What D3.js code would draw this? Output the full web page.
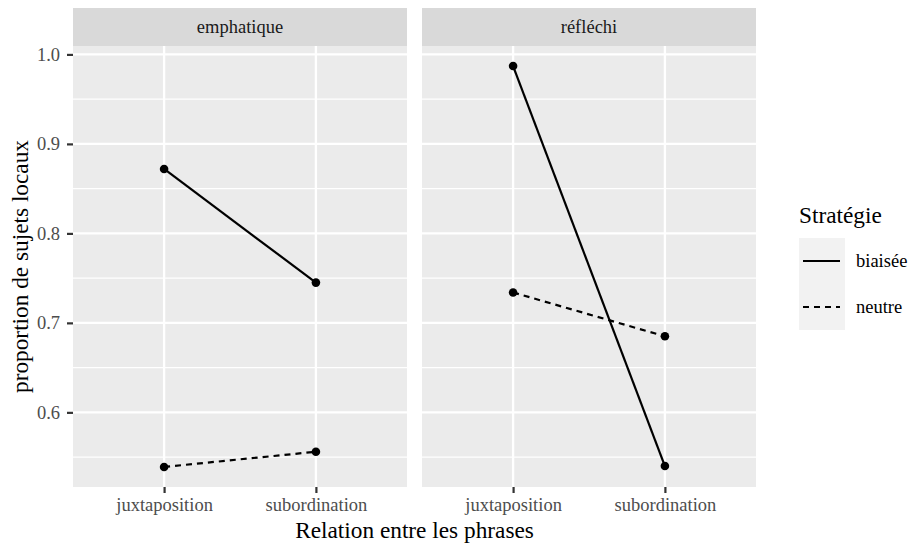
<!DOCTYPE html>
<html><head><meta charset="utf-8">
<script src="https://cdn.jsdelivr.net/npm/d3@7"></script>
<style>body{margin:0;background:#fff}svg{display:block}</style>
</head><body><svg id="c" width="908" height="544"></svg>
<script>
const facets = ["emphatique", "réfléchi"];
const relations = ["juxtaposition", "subordination"];
const strategies = ["biaisée", "neutre"];
const emphatiqueBiaisee = [0.872, 0.745];
const emphatiqueNeutre = [0.539, 0.556];
const reflechiBiaisee = [0.987, 0.540];
const reflechiNeutre = [0.734, 0.685];
const yTicks = [0.6, 0.7, 0.8, 0.9, 1.0];
const yMinor = [0.55, 0.65, 0.75, 0.85, 0.95];

const data = {
  "emphatique": {"biaisée": emphatiqueBiaisee, "neutre": emphatiqueNeutre},
  "réfléchi": {"biaisée": reflechiBiaisee, "neutre": reflechiNeutre}
};

const FONT = "'Liberation Serif', 'DejaVu Serif', serif";
const svg = d3.select("#c").style("font-family", FONT);
const panelTop = 46, panelBottom = 487, stripTop = 8;
const panelX = [[73, 407], [422, 756]];
const all = [].concat(emphatiqueBiaisee, emphatiqueNeutre, reflechiBiaisee, reflechiNeutre);
const lo = d3.min(all), hi = d3.max(all), pad = (hi - lo) * 0.05;
const y = d3.scaleLinear().domain([lo - pad, hi + pad]).range([panelBottom, panelTop]);
const dash = {"biaisée": null, "neutre": "6,5"};

facets.forEach((f, i) => {
  const [x0, x1] = panelX[i];
  const x = d3.scalePoint().domain(relations).range([x0, x1]).padding(0.6);
  const g = svg.append("g");
  g.append("rect").attr("x", x0).attr("y", panelTop).attr("width", x1 - x0).attr("height", panelBottom - panelTop).attr("fill", "#ebebeb");
  yMinor.forEach(v => { if (y(v) > panelTop && y(v) < panelBottom) g.append("line").attr("x1", x0).attr("x2", x1).attr("y1", y(v)).attr("y2", y(v)).attr("stroke", "#fff").attr("stroke-width", 1.2); });
  yTicks.forEach(v => g.append("line").attr("x1", x0).attr("x2", x1).attr("y1", y(v)).attr("y2", y(v)).attr("stroke", "#fff").attr("stroke-width", 2.3));
  relations.forEach(r => g.append("line").attr("x1", x(r)).attr("x2", x(r)).attr("y1", panelTop).attr("y2", panelBottom).attr("stroke", "#fff").attr("stroke-width", 2.3));
  // strip
  g.append("rect").attr("x", x0).attr("y", stripTop).attr("width", x1 - x0).attr("height", panelTop - stripTop).attr("fill", "#d9d9d9");
  g.append("text").attr("x", (x0 + x1) / 2).attr("y", 33).attr("text-anchor", "middle").attr("font-size", 18.5).attr("fill", "#1a1a1a").text(f);
  // lines
  strategies.forEach(s => {
    const vals = data[f][s];
    const line = d3.line().x((d, j) => x(relations[j])).y(d => y(d));
    g.append("path").attr("d", line(vals)).attr("fill", "none").attr("stroke", "#000").attr("stroke-width", 2.2).attr("stroke-dasharray", dash[s]);
    vals.forEach((v, j) => g.append("circle").attr("cx", x(relations[j])).attr("cy", y(v)).attr("r", 4.3).attr("fill", "#000"));
  });
  // x axis
  const xa = svg.append("g").attr("transform", `translate(0,${panelBottom})`).call(d3.axisBottom(x).tickSize(6).tickPadding(5));
  xa.attr("font-family", FONT).attr("font-size", 18.5);
  xa.select(".domain").remove();
  xa.selectAll("line").attr("stroke", "#333").attr("stroke-width", 2.2);
  xa.selectAll("text").attr("fill", "#4d4d4d");
});
// y axis
const ya = svg.append("g").attr("transform", `translate(${panelX[0][0]},0)`).call(d3.axisLeft(y).tickValues(yTicks).tickFormat(d3.format(".1f")).tickSize(6).tickPadding(7));
ya.attr("font-family", FONT).attr("font-size", 18.5);
ya.select(".domain").remove();
ya.selectAll("line").attr("stroke", "#333").attr("stroke-width", 2.2);
ya.selectAll("text").attr("fill", "#4d4d4d");

svg.append("text").attr("x", (panelX[0][0] + panelX[1][1]) / 2).attr("y", 538).attr("text-anchor", "middle").attr("font-size", 23.3).attr("fill", "#000").text("Relation entre les phrases");
svg.append("text").attr("transform", `translate(28,${(panelTop + panelBottom) / 2}) rotate(-90)`).attr("text-anchor", "middle").attr("font-size", 23.3).attr("fill", "#000").text("proportion de sujets locaux");

// legend
const lg = svg.append("g");
lg.append("text").attr("x", 799).attr("y", 223).attr("font-size", 23.3).attr("fill", "#000").text("Stratégie");
strategies.forEach((s, i) => {
  const ky = 238 + i * 46;
  lg.append("rect").attr("x", 799).attr("y", ky).attr("width", 46).attr("height", 46).attr("fill", "#f2f2f2");
  lg.append("line").attr("x1", 803).attr("x2", 840).attr("y1", ky + 23).attr("y2", ky + 23).attr("stroke", "#000").attr("stroke-width", 2.2).attr("stroke-dasharray", dash[s]);
  lg.append("text").attr("x", 856).attr("y", ky + 29).attr("font-size", 18.5).attr("fill", "#000").text(s);
});
</script></body></html>
